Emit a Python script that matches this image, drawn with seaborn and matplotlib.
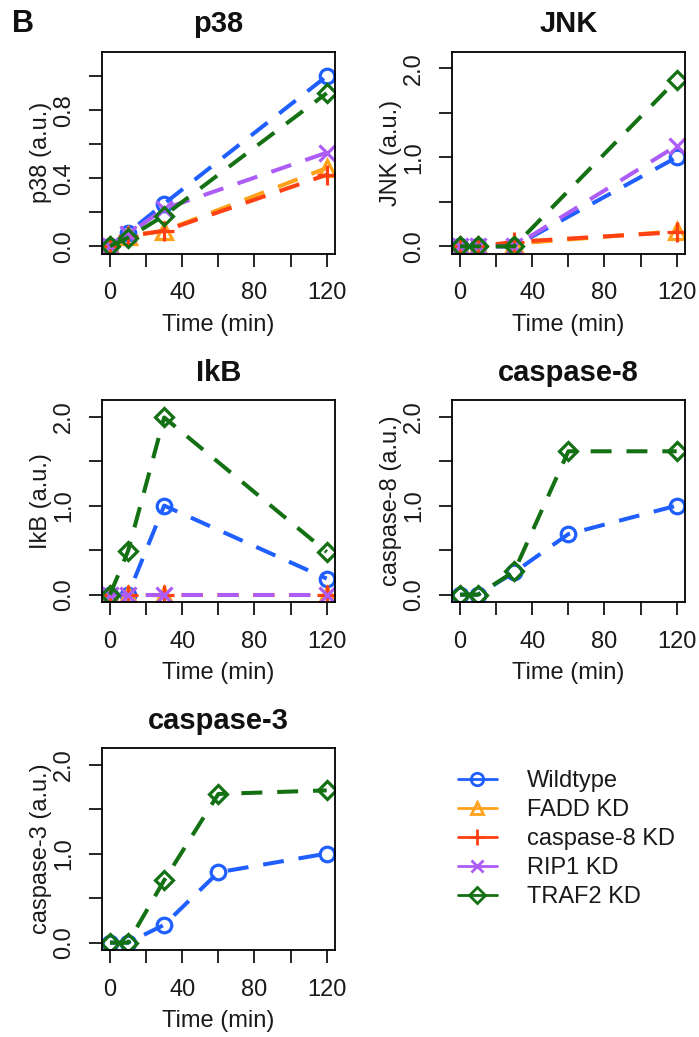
import matplotlib
matplotlib.use("Agg")
import matplotlib.pyplot as plt
import numpy as np
import pandas as pd
import seaborn as sns
from matplotlib.lines import Line2D

# ---------------- data ----------------
series = ["Wildtype", "FADD KD", "caspase-8 KD", "RIP1 KD", "TRAF2 KD"]
time_short = [0, 10, 30, 120]
time_long = [0, 10, 30, 60, 120]

p38_wt = [0.0, 0.08, 0.25, 1.00]
p38_fadd = [0.0, 0.06, 0.09, 0.46]
p38_casp8 = [0.0, 0.06, 0.09, 0.42]
p38_rip1 = [0.0, 0.07, 0.22, 0.55]
p38_traf2 = [0.0, 0.05, 0.18, 0.90]

jnk_wt = [0.0, 0.0, 0.0, 1.00]
jnk_fadd = [0.0, 0.0, 0.03, 0.17]
jnk_casp8 = [0.0, 0.0, 0.05, 0.16]
jnk_rip1 = [0.0, 0.0, 0.0, 1.13]
jnk_traf2 = [0.0, 0.0, 0.0, 1.87]

ikb_wt = [0.0, 0.0, 1.00, 0.18]
ikb_fadd = [0.0, 0.0, 0.0, 0.0]
ikb_casp8 = [0.0, 0.0, 0.0, 0.0]
ikb_rip1 = [0.0, 0.0, 0.0, 0.0]
ikb_traf2 = [0.0, 0.49, 1.99, 0.48]

casp8_wt = [0.0, 0.0, 0.25, 0.68, 1.00]
casp8_traf2 = [0.0, 0.0, 0.26, 1.61, 1.61]

casp3_wt = [0.0, 0.0, 0.20, 0.79, 1.00]
casp3_traf2 = [0.0, 0.0, 0.70, 1.67, 1.71]

x_ticks = [0, 20, 40, 60, 80, 100, 120]
x_ticklabels = ["0", "", "40", "", "80", "", "120"]
y_ticks_small = [0.0, 0.2, 0.4, 0.6, 0.8, 1.0]
y_ticklabels_small = ["0.0", "", "0.4", "", "0.8", ""]
y_ticks_big = [0.0, 0.5, 1.0, 1.5, 2.0]
y_ticklabels_big = ["0.0", "", "1.0", "", "2.0"]

panel_names = ["p38", "JNK", "IkB", "caspase-8", "caspase-3"]
panel_times = [time_short, time_short, time_short, time_long, time_long]
panel_data = [
    {"Wildtype": p38_wt, "FADD KD": p38_fadd, "caspase-8 KD": p38_casp8,
     "RIP1 KD": p38_rip1, "TRAF2 KD": p38_traf2},
    {"Wildtype": jnk_wt, "FADD KD": jnk_fadd, "caspase-8 KD": jnk_casp8,
     "RIP1 KD": jnk_rip1, "TRAF2 KD": jnk_traf2},
    {"Wildtype": ikb_wt, "FADD KD": ikb_fadd, "caspase-8 KD": ikb_casp8,
     "RIP1 KD": ikb_rip1, "TRAF2 KD": ikb_traf2},
    {"Wildtype": casp8_wt, "TRAF2 KD": casp8_traf2},
    {"Wildtype": casp3_wt, "TRAF2 KD": casp3_traf2},
]

# ---------------- style ----------------
sns.set_style("white")
plt.rcParams["font.family"] = ["Liberation Sans", "DejaVu Sans"]
plt.rcParams["axes.edgecolor"] = "black"
plt.rcParams["axes.linewidth"] = 1.3

colors = {"Wildtype": "#1f5fff", "FADD KD": "#ffa21a", "caspase-8 KD": "#ff4012",
          "RIP1 KD": "#ad5cf5", "TRAF2 KD": "#137013"}
markers = {"Wildtype": "o", "FADD KD": "^", "caspase-8 KD": "+",
           "RIP1 KD": "x", "TRAF2 KD": "D"}
msizes = {"o": 10.5, "^": 11, "+": 14, "x": 11, "D": 9.5}
dash = (5.2, 3.7)

W, H = 699, 1037
fig = plt.figure(figsize=(W / 100, H / 100), dpi=100)

col_left = [101.7, 451.7]
row_top = [51.7, 400.0, 748.0]
ax_w, ax_h = 233.3, 202.3
positions = [(0, 0), (0, 1), (1, 0), (1, 1), (2, 0)]

FS = 17
for i, name in enumerate(panel_names):
    r, c = positions[i]
    left = col_left[c] / W
    bottom = 1 - (row_top[r] + ax_h) / H
    ax = fig.add_axes([left, bottom, ax_w / W, ax_h / H])

    for s in series:
        if s not in panel_data[i]:
            continue
        df = pd.DataFrame({"Time": panel_times[i], "value": panel_data[i][s]})
        mk = markers[s]
        sns.lineplot(data=df, x="Time", y="value", color=colors[s],
                     linewidth=2.9, linestyle=(0, dash), errorbar=None,
                     legend=False, ax=ax, marker=mk,
                     markersize=msizes[mk], markerfacecolor="none",
                     markeredgecolor=colors[s], markeredgewidth=2.3)

    ax.set_xlim(-4.6, 124.6)
    if name == "p38":
        ax.set_ylim(-0.046, 1.144)
        ax.set_yticks(y_ticks_small, y_ticklabels_small)
    else:
        ax.set_ylim(-0.086, 2.186)
        ax.set_yticks(y_ticks_big, y_ticklabels_big)
    ax.set_xticks(x_ticks, x_ticklabels)

    ax.tick_params(axis="both", direction="out", length=9.5, width=1.2,
                   labelsize=FS, color="black", labelcolor="#1a1a1a",
                   bottom=True, left=True)
    ax.tick_params(axis="x", pad=11)
    ax.tick_params(axis="y", labelrotation=90, pad=9.5)
    for lab in ax.get_yticklabels():
        lab.set_va("center")
    for sp in ax.spines.values():
        sp.set_visible(True)
        sp.set_color("black")
        sp.set_linewidth(1.3)

    ax.set_xlabel("Time (min)", fontsize=FS, color="#1a1a1a", labelpad=7)
    ax.set_ylabel(f"{name} (a.u.)", fontsize=FS, color="#1a1a1a", labelpad=1)
    ax.set_title(name, fontsize=21, fontweight="bold", pad=14, color="#111111")
    ax.grid(False)

# panel letter
fig.text(12 / W, 1 - 32 / H, "B", fontsize=22, fontweight="bold",
         ha="left", va="baseline", color="#111111")

# legend
handles = [Line2D([0], [0], color=colors[s], marker=markers[s], linestyle="-",
                  linewidth=2.0, markersize=msizes[markers[s]] * 0.85,
                  markerfacecolor="none", markeredgecolor=colors[s],
                  markeredgewidth=2.0)
           for s in series]
fig.legend(handles, series, loc="upper left",
           bbox_to_anchor=(458 / W, 1 - 770 / H), frameon=False,
           fontsize=FS, handlelength=1.65, handletextpad=1.27,
           labelspacing=0.30, borderpad=0, borderaxespad=0,
           labelcolor="#1a1a1a")

fig.savefig("out.png", dpi=100, facecolor="white")
